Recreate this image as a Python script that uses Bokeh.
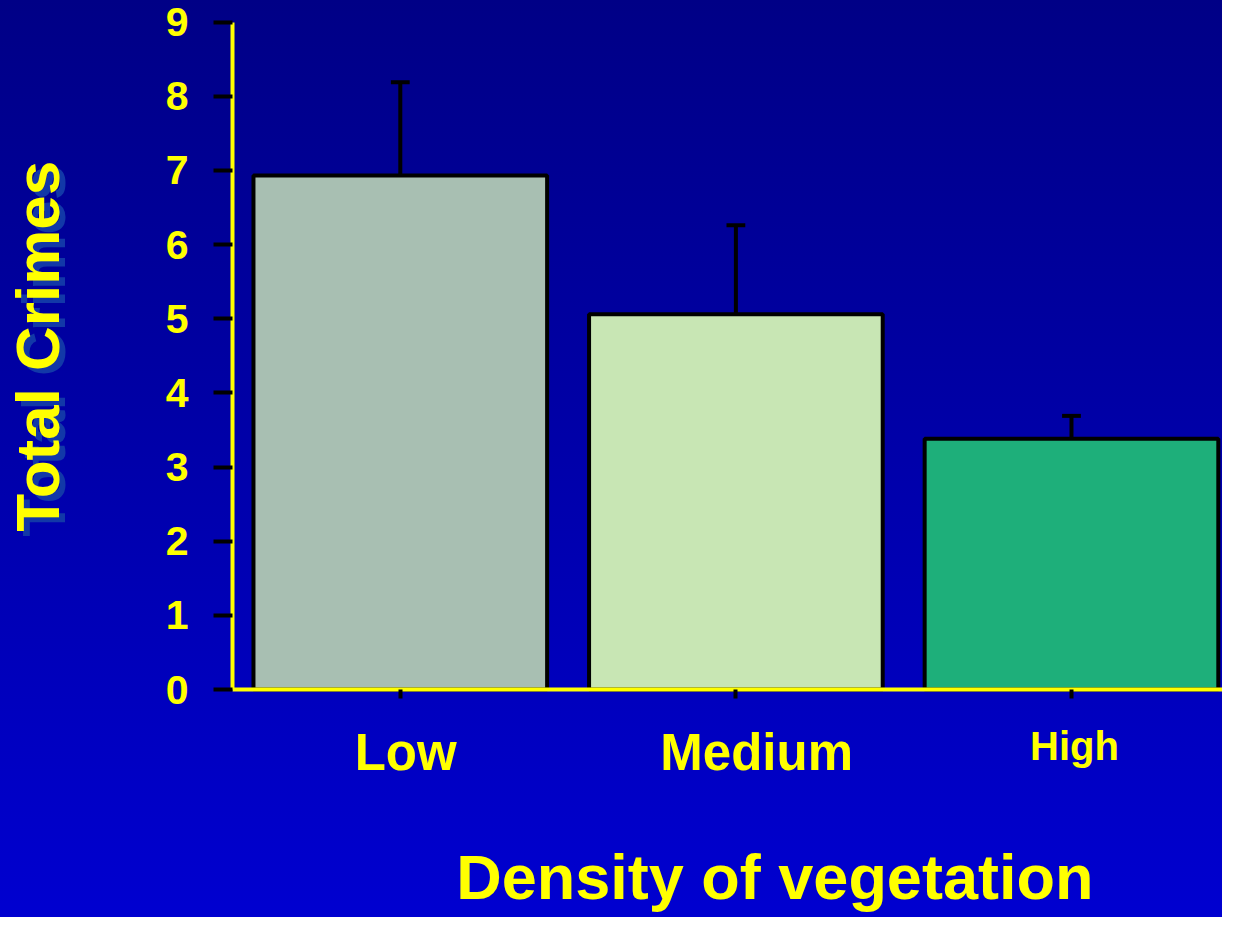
from bokeh.plotting import figure
from bokeh.models import Range1d, FixedTicker, Label, ColumnDataSource
from bokeh.embed import file_html
from bokeh.resources import INLINE
import math

# ---- data ----
categories = ["Low", "Medium", "High"]
values = [6.93, 5.06, 3.38]
errors = [1.26, 1.20, 0.31]
bar_colors = ["#A8BFB2", "#C8E6B4", "#1EAF7A"]
y_ticks = [0, 1, 2, 3, 4, 5, 6, 7, 8, 9]
y_title = "Total Crimes"
x_title = "Density of vegetation"

# ---- layout / style ----
label_sizes = ["51px", "51px", "40px"]
label_dx = [0.016, 0.062, 0.009]
label_y = [-0.852, -0.852, -0.765]

YELLOW = "#FFFF00"
FONT = "Liberation Sans"

W, H = 1222, 917
x_start, x_end = -0.6913, 2.950
y_start, y_end = -3.074, 9.291

xs = [i + 0.5 for i in range(len(categories))]
tops = [v + e for v, e in zip(values, errors)]
cap_half = 0.028

src = ColumnDataSource(dict(x=xs, top=values, upper=tops, color=bar_colors,
                            cl=[x - cap_half for x in xs], cr=[x + cap_half for x in xs]))

p = figure(width=W, height=H, output_backend="svg", toolbar_location=None,
           x_range=Range1d(x_start, x_end), y_range=Range1d(y_start, y_end),
           min_border_left=0, min_border_right=0, min_border_top=0, min_border_bottom=0)
p.title.text = ""
p.title.visible = False
p.background_fill_alpha = 0
p.border_fill_alpha = 0
p.outline_line_color = None
p.styles = {"background": "linear-gradient(to bottom, #000086 0%, #0000A6 45%, #0000D0 100%)"}
p.grid.visible = False

p.vbar(x="x", top="top", width=0.875, bottom=0, source=src, fill_color="color",
       line_color="black", line_width=4)
p.segment(x0="x", y0="top", x1="x", y1="upper", source=src, line_color="black", line_width=4)
p.segment(x0="cl", y0="upper", x1="cr", y1="upper", source=src, line_color="black", line_width=4)

# y axis
ya = p.yaxis[0]
ya.fixed_location = 0
ya.bounds = (0, 9)
ya.ticker = FixedTicker(ticks=y_ticks)
ya.axis_line_color = YELLOW
ya.axis_line_width = 4
ya.major_tick_line_color = "black"
ya.major_tick_line_width = 4
ya.major_tick_out = 19
ya.major_tick_in = 0
ya.minor_tick_line_color = None
ya.major_label_text_color = YELLOW
ya.major_label_text_font = FONT
ya.major_label_text_font_style = "bold"
ya.major_label_text_font_size = "41px"
ya.major_label_standoff = 25

# x axis
xa = p.xaxis[0]
xa.fixed_location = 0
xa.bounds = (0, x_end)
xa.ticker = FixedTicker(ticks=xs)
xa.axis_line_color = YELLOW
xa.axis_line_width = 4
xa.major_tick_line_color = "black"
xa.major_tick_line_width = 4
xa.major_tick_out = 9
xa.major_tick_in = 0
xa.minor_tick_line_color = None
xa.major_label_text_color = None
xa.major_label_text_font_size = "1px"

# category labels
for x, cat, size, dx, ly in zip(xs, categories, label_sizes, label_dx, label_y):
    p.add_layout(Label(x=x + dx, y=ly, text=cat, text_align="center", text_baseline="alphabetic",
                       text_color=YELLOW, text_font=FONT, text_font_style="bold",
                       text_font_size=size))

# y title with shadow
p.add_layout(Label(x=-0.580 + 0.018, y=4.63 - 0.07, text=y_title, angle=math.pi / 2,
                   text_align="center", text_baseline="alphabetic", text_color="#1238A8",
                   text_font=FONT, text_font_style="bold", text_font_size="62px"))
p.add_layout(Label(x=-0.580, y=4.63, text=y_title, angle=math.pi / 2,
                   text_align="center", text_baseline="alphabetic", text_color=YELLOW,
                   text_font=FONT, text_font_style="bold", text_font_size="62px"))

# x title
p.add_layout(Label(x=1.616, y=-2.523, text=x_title, text_align="center",
                   text_baseline="alphabetic", text_color=YELLOW, text_font=FONT,
                   text_font_style="bold", text_font_size="63px"))

open("out.html", "w").write(file_html(p, INLINE))
